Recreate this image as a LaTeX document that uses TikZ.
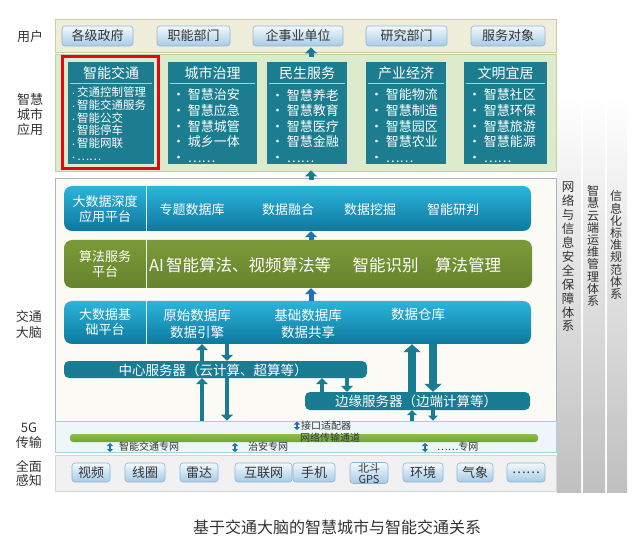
\documentclass[tikz,border=0pt]{standalone}
\usepackage{fontspec}
\setmainfont{Noto Sans CJK SC}
\usetikzlibrary{arrows.meta}
\newcommand\fsz[2]{\fontsize{#1}{#2}\selectfont}
\newcommand\sdot{{\fsz{7}{7}·}}
\definecolor{ubandF}{HTML}{EFEEDB}
\definecolor{ubandD}{HTML}{CFCBA8}
\definecolor{btnT}{HTML}{F4F9FD}
\definecolor{btnB}{HTML}{A6CBE6}
\definecolor{btnD}{HTML}{8FB5D0}
\definecolor{appbandF}{HTML}{DCEBCB}
\definecolor{appbandD}{HTML}{BCD3A6}
\definecolor{tealbox}{HTML}{1D7D90}
\definecolor{brainF}{HTML}{FBFAF5}
\definecolor{brainD}{HTML}{A9B4BE}
\definecolor{blueT}{HTML}{2BB5DB}
\definecolor{blueB}{HTML}{0E789E}
\definecolor{greenT}{HTML}{7A9A3A}
\definecolor{greenB}{HTML}{66842C}
\definecolor{srv}{HTML}{1A7C93}
\definecolor{arrT}{HTML}{1A7C93}
\definecolor{arrB}{HTML}{2170B5}
\definecolor{gF}{HTML}{EEF6F9}
\definecolor{gD}{HTML}{A6CFE0}
\definecolor{gbarT}{HTML}{8CC04A}
\definecolor{gbarB}{HTML}{6FA333}
\definecolor{sF}{HTML}{F1F1F1}
\definecolor{sD}{HTML}{D6D6D6}
\definecolor{txt}{HTML}{333333}
\definecolor{redF}{HTML}{E30613}
\definecolor{sepc}{HTML}{9FD3E0}
\begin{document}
\begin{tikzpicture}[x=1pt,y=-1pt,
  every node/.style={inner sep=0pt, text=txt},
  band/.style={draw=#1, line width=0.8pt},
  btn/.style={rounded corners=3pt, top color=btnT, bottom color=btnB, draw=btnD, line width=0.6pt, minimum height=20pt, font=\fsz{13}{13}, text=txt},
  appbox/.style={fill=tealbox, minimum height=102pt},
  apphead/.style={font=\fsz{14}{14}, text=white},
  items/.style={font=\fsz{13}{15.6}, text=white, align=left, anchor=north west},
  sepline/.style={draw=sepc, line width=1pt},
  bplat/.style={rounded corners=8pt, top color=blueT, bottom color=blueB},
  gplat/.style={rounded corners=8pt, top color=greenT, bottom color=greenB},
  srvbar/.style={rounded corners=5pt, fill=srv},
  wtext/.style={text=white, font=\fsz{13}{15}, align=center},
  divl/.style={draw=white!85!blueT, line width=1pt},
  arT/.style={draw=arrT, line width=5pt, -{Triangle[width=12pt,length=6pt]}},
  arBl/.style={draw=arrB, line width=5pt, -{Triangle[width=12pt,length=6pt]}},
  arBig/.style={draw=arrT, line width=8pt, -{Triangle[width=17pt,length=8pt]}},
  dbl/.style={draw=arrB, line width=2pt, {Triangle[width=6pt,length=3pt]}-{Triangle[width=6pt,length=3pt]}},
  side/.style={font=\fsz{13}{15}, align=center, text=txt},
  vt/.style={align=center, text=txt},
  small/.style={font=\fsz{10}{10}, anchor=west, text=txt}
]
\useasboundingbox[fill=white] (0,0) rectangle (640,545);

% right strips
\shade[top color=white, bottom color=black!25] (557,95) rectangle (581,492);
\shade[top color=white, bottom color=black!25] (583,95) rectangle (605,492);
\shade[top color=white, bottom color=black!25] (607,95) rectangle (627,492);
\node[vt, font=\fsz{12.5}{13.9}] (s1) at (568,257) {网\\络\\与\\信\\息\\安\\全\\保\\障\\体\\系};
\node[vt, font=\fsz{12}{12.2}] (s2) at (593,246) {智\\慧\\云\\端\\运\\维\\管\\理\\体\\系};
\node[vt, font=\fsz{12}{12.2}] (s3) at (616,245) {信\\息\\化\\标\\准\\规\\范\\体\\系};

% bands
\node[band=ubandD, fill=ubandF, minimum width=501pt, minimum height=33pt] (users) at (305.5,35.5) {};
\node[band=appbandD, fill=appbandF, minimum width=501pt, minimum height=117pt] (apps) at (305.5,112.5) {};
\node[band=brainD, fill=brainF, minimum width=501pt, minimum height=243pt] (brain) at (305.5,299.5) {};
\node[band=gD, fill=gF, minimum width=501pt, minimum height=31pt] (g5) at (305.5,436.5) {};
\node[band=sD, fill=sF, minimum width=501pt, minimum height=36pt] (sense) at (305.5,473) {};

% side labels
\node[side] (l1) at (30,37) {用户};
\node[side] (l2) at (30,115) {智慧\\城市\\应用};
\node[side, font=\fsz{13}{16}] (l3) at (29,325) {交通\\大脑};
\node[side] (l4) at (29,436) {5G\\传输};
\node[side, font=\fsz{13}{14}] (l5) at (29,473) {全面\\感知};

% user buttons
\node[btn, minimum width=71pt] (u1) at (97.5,36) {各级政府};
\node[btn, minimum width=73pt] (u2) at (193.5,36) {职能部门};
\node[btn, minimum width=90pt] (u3) at (298,36) {企事业单位};
\node[btn, minimum width=81pt] (u4) at (406.5,36) {研究部门};
\node[btn, minimum width=74pt] (u5) at (508,36) {服务对象};

% application boxes
\node[appbox, minimum width=86pt] (a1) at (111,113) {};
\node[appbox, minimum width=89pt] (a2) at (212.5,113) {};
\node[appbox, minimum width=80pt] (a3) at (307,113) {};
\node[appbox, minimum width=80pt] (a4) at (406,113) {};
\node[appbox, minimum width=83pt] (a5) at (505.5,113) {};
\foreach \b/\t in {a1/智能交通, a2/城市治理, a3/民生服务, a4/产业经济, a5/文明宜居}{
  \node[apphead] (\b h) at ([yshift=-11pt]\b.north) {\t};
  \draw[sepline] ([xshift=2pt,yshift=-22pt]\b.north west) -- ([xshift=-2pt,yshift=-22pt]\b.north east);
}
\node[items, font=\fsz{11.5}{12.7}] (a1i) at ([xshift=2pt,yshift=-25pt]a1.north west) {\sdot 交通控制管理\\\sdot 智能交通服务\\\sdot 智能公交\\\sdot 智能停车\\\sdot 智能网联\\\sdot ……};
\node[items] (a2i) at ([xshift=4pt,yshift=-27pt]a2.north west) {• 智慧治安\\• 智慧应急\\• 智慧城管\\• 城乡一体\\• ……};
\node[items] (a3i) at ([xshift=4pt,yshift=-27pt]a3.north west) {• 智慧养老\\• 智慧教育\\• 智慧医疗\\• 智慧金融\\• ……};
\node[items] (a4i) at ([xshift=4pt,yshift=-27pt]a4.north west) {• 智能物流\\• 智慧制造\\• 智慧园区\\• 智慧农业\\• ……};
\node[items] (a5i) at ([xshift=4pt,yshift=-27pt]a5.north west) {• 智慧社区\\• 智慧环保\\• 智慧旅游\\• 智慧能源\\• ……};
\draw[draw=redF, line width=3pt] (62,57) rectangle (158,169);

% platforms
\node[bplat, minimum width=467pt, minimum height=45pt] (bdd) at (297.5,208.5) {};
\node[gplat, minimum width=468pt, minimum height=48pt] (alg) at (298,264) {};
\node[bplat, minimum width=467pt, minimum height=43pt] (bdb) at (297.5,322.5) {};
\node[srvbar, minimum width=303pt, minimum height=17pt] (cs) at (215.5,369.5) {};
\node[srvbar, minimum width=225pt, minimum height=18pt] (es) at (417.5,401) {};
\coordinate (dv) at (146,0);
\draw[divl] (bdd.north -| dv) -- (bdd.south -| dv);
\draw[divl] (alg.north -| dv) -- (alg.south -| dv);
\draw[divl] (bdb.north -| dv) -- (bdb.south -| dv);

\node[wtext] (t1) at (105,209) {大数据深度\\应用平台};
\node[wtext] (t2) at (192,210) {专题数据库};
\node[wtext] (t3) at (288,210) {数据融合};
\node[wtext] (t4) at (370,210) {数据挖掘};
\node[wtext] (t5) at (453,210) {智能研判};
\node[wtext] (t6) at (105,264) {算法服务\\平台};
\node[wtext, font=\fsz{16.5}{16.5}, anchor=west] (t7) at (149,265) {AI\hspace{2pt}智能算法、视频算法等};
\node[wtext, font=\fsz{16.5}{16.5}] (t8) at (385.5,265) {智能识别};
\node[wtext, font=\fsz{16.5}{16.5}] (t9) at (468,265) {算法管理};
\node[wtext] (t10) at (105,322) {大数据基\\础平台};
\node[wtext, font=\fsz{13.5}{17}] (t11) at (197,323.5) {原始数据库\\数据引擎};
\node[wtext, font=\fsz{13.5}{17}] (t12) at (308,323.5) {基础数据库\\数据共享};
\node[wtext, font=\fsz{13.5}{17}] (t13) at (418,314) {数据仓库};
\node[wtext, font=\fsz{13.5}{13.5}] (t14) at (213,370) {中心服务器（云计算、超算等）};
\node[wtext, font=\fsz{13.5}{13.5}] (t15) at (416,401) {边缘服务器（边端计算等）};

% 5G contents
\node[rounded corners=3pt, top color=gbarT, bottom color=gbarB, minimum width=468pt, minimum height=8pt] (bar) at (304,438) {};
\node[small] (k1) at (301,425.5) {接口适配器};
\node[small] (k2) at (300,438) {网络传输通道};
\node[small] (k3) at (119,447) {智能交通专网};
\node[small] (k4) at (248,447) {治安专网};
\node[small] (k5) at (437,447) {……专网};
\draw[dbl] (297,421.5) -- (297,430);
\draw[dbl] (110,443) -- (110,452);
\draw[dbl] (235,443) -- (235,452);
\draw[dbl] (425,443) -- (425,452);

% sensing buttons
\node[btn, minimum width=38pt, minimum height=19pt] (p1) at (91,472.5) {视频};
\node[btn, minimum width=40pt, minimum height=19pt] (p2) at (145,472.5) {线圈};
\node[btn, minimum width=38pt, minimum height=19pt] (p3) at (199,472.5) {雷达};
\node[btn, minimum width=57pt, minimum height=19pt] (p4) at (263.5,472.5) {互联网};
\node[btn, minimum width=42pt, minimum height=19pt] (p5) at (314,472.5) {手机};
\node[btn, minimum width=38pt, minimum height=21pt, font=\fsz{11}{11}, align=center] (p6) at (369,473) {北斗\\GPS};
\node[btn, minimum width=40pt, minimum height=19pt] (p7) at (423,472.5) {环境};
\node[btn, minimum width=36pt, minimum height=19pt] (p8) at (475,472.5) {气象};
\node[btn, minimum width=38pt, minimum height=19pt] (p9) at (526,472.5) {……};

% arrows
\coordinate (cM) at (311,0);
\coordinate (cA) at (202,0);
\coordinate (cB) at (227,0);
\coordinate (cC) at (322,0);
\coordinate (cD) at (347,0);
\coordinate (cE) at (412,0);
\coordinate (cF) at (433,0);
\draw[arT, shorten <=-3pt, shorten >=-5pt] (apps.north -| cM) -- (users.south -| cM);
\draw[arT, shorten <=-2pt, shorten >=-1pt] (brain.north -| cM) -- (apps.south -| cM);
\draw[arBl] (alg.north -| cM) -- (bdd.south -| cM);
\draw[arBl] (bdb.north -| cM) -- (alg.south -| cM);
\draw[arT, line width=4pt] (cs.north -| cA) -- (bdb.south -| cA);
\draw[arT, line width=4pt] (bdb.south -| cB) -- (cs.north -| cB);
\draw[arT, line width=4.5pt] (g5.north -| cA) -- (cs.south -| cA);
\draw[arT, line width=4.5pt] (cs.south -| cB) -- (g5.north -| cB);
\draw[arT, line width=4pt] (es.north -| cC) -- (cs.south -| cC);
\draw[arT, line width=4pt] (cs.south -| cD) -- (es.north -| cD);
\draw[arBig] (es.north -| cE) -- (bdb.south -| cE);
\draw[arBig] (bdb.south -| cF) -- (es.north -| cF);
\draw[arT, line width=4pt, -{Triangle[width=10pt,length=5pt]}] (g5.north -| cE) -- (es.south -| cE);
\draw[arT, line width=4pt, -{Triangle[width=10pt,length=5pt]}] (es.south -| cF) -- (g5.north -| cF);

% caption
\node[font=\fsz{16}{16}] (cap) at (337,527) {基于交通大脑的智慧城市与智能交通关系};
\end{tikzpicture}
\end{document}
